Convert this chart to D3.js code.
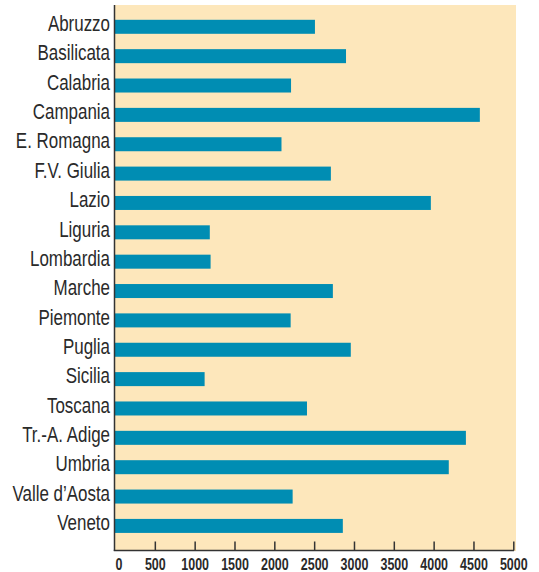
<!DOCTYPE html>
<html>
<head>
<meta charset="utf-8">
<script src="https://cdn.jsdelivr.net/npm/d3@7"></script>
<style>
  html, body { margin: 0; padding: 0; background: #ffffff; }
  svg { display: block; }
</style>
</head>
<body>
<svg id="chart" width="539" height="572"></svg>
<script>
const regions = ["Abruzzo", "Basilicata", "Calabria", "Campania", "E. Romagna", "F.V. Giulia", "Lazio", "Liguria", "Lombardia", "Marche", "Piemonte", "Puglia", "Sicilia", "Toscana", "Tr.-A. Adige", "Umbria", "Valle d\u2019Aosta", "Veneto"];
const values = [2510, 2900, 2210, 4580, 2090, 2710, 3965, 1190, 1200, 2735, 2205, 2960, 1125, 2410, 4405, 4190, 2230, 2860];
const tickValues = [0, 500, 1000, 1500, 2000, 2500, 3000, 3500, 4000, 4500, 5000];

(function () {
const svg = d3.select("#chart");
const pLeft = 115, pRight = 513.3, pTop = 5, pBottom = 551, bgRight = 516;
const labelFont = "'Liberation Sans', Arial, sans-serif";

const x = d3.scaleLinear().domain([0, 5000]).range([pLeft, pRight]);
const y = d3.scaleBand().domain(regions).range([pTop, pBottom])
  .paddingInner(0.523).paddingOuter(0.56).align(0.45);

// background
svg.append("rect")
  .attr("x", pLeft).attr("y", pTop)
  .attr("width", bgRight - pLeft).attr("height", pBottom - pTop)
  .attr("fill", "#fde7bb");

// bars
svg.append("g").selectAll("rect")
  .data(regions)
  .join("rect")
  .attr("x", x(0))
  .attr("y", d => y(d))
  .attr("height", y.bandwidth())
  .attr("width", (d, i) => x(values[i]) - x(0))
  .attr("fill", "#008db3");

// category labels (condensed via horizontal scaling)
svg.append("g").selectAll("text")
  .data(regions)
  .join("text")
  .attr("transform", d => `translate(110,${y(d) + y.bandwidth() / 2 + 4.2}) scale(0.77,1)`)
  .attr("text-anchor", "end")
  .attr("font-family", labelFont)
  .attr("font-size", "22px")
  .attr("fill", "#2a2a2a")
  .text(d => d);

// x axis: inward ticks
const xAxis = d3.axisBottom(x).tickValues(tickValues).tickSize(-9).tickPadding(0).tickFormat(d3.format("d"));
const gx = svg.append("g").attr("transform", `translate(0,${pBottom - 0.5})`).call(xAxis);
gx.select(".domain").remove();
gx.selectAll(".tick line").attr("stroke", "#333").attr("stroke-width", 1.5)
  .filter(d => d === 0).remove();
gx.selectAll(".tick text")
  .attr("y", 0).attr("dy", null)
  .attr("transform", "translate(0,19.5) scale(0.78,1)")
  .attr("font-family", labelFont)
  .attr("font-size", "16px")
  .attr("font-weight", "bold")
  .attr("fill", "#2a2a2a")
  .attr("text-anchor", d => d === 0 ? "start" : "middle");

// axis lines
svg.append("line")
  .attr("x1", pLeft - 0.5).attr("x2", pLeft - 0.5)
  .attr("y1", pTop).attr("y2", pBottom)
  .attr("stroke", "#333").attr("stroke-width", 1.5);
svg.append("line")
  .attr("x1", pLeft - 1.2).attr("x2", pRight + 0.7)
  .attr("y1", pBottom - 0.5).attr("y2", pBottom - 0.5)
  .attr("stroke", "#333").attr("stroke-width", 1.5);
})();
</script>
</body>
</html>
